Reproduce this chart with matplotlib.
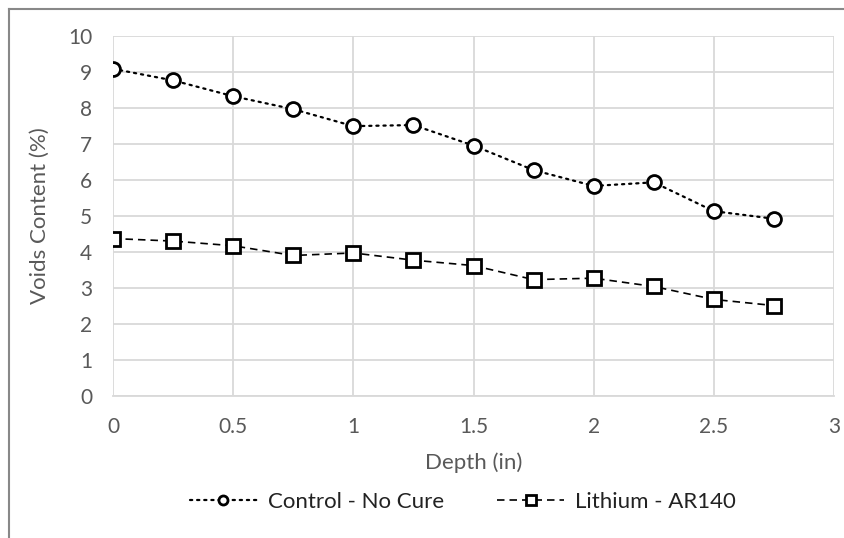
import matplotlib
matplotlib.use("Agg")
import matplotlib.pyplot as plt
from matplotlib.lines import Line2D

depth = [0, 0.25, 0.5, 0.75, 1.0, 1.25, 1.5, 1.75, 2.0, 2.25, 2.5, 2.75]
control = [9.08, 8.76, 8.32, 7.96, 7.49, 7.52, 6.95, 6.27, 5.83, 5.93, 5.13, 4.92]
lithium = [4.37, 4.30, 4.17, 3.90, 3.97, 3.77, 3.62, 3.23, 3.27, 3.04, 2.68, 2.51]
xticks = [0, 0.5, 1, 1.5, 2, 2.5, 3]
yticks = list(range(0, 11))

plt.rcParams['font.family'] = ['Lato', 'DejaVu Sans']
W, H = 844, 538
fig = plt.figure(figsize=(W / 100, H / 100), dpi=100)
ax = fig.add_axes([113 / W, 1 - 396 / H, (834 - 113) / W, (396 - 35.7) / H])

ax.plot(depth, control, linestyle=(0, (1, 2.2)), dash_capstyle='round', color='black', lw=1.6,
        marker='o', ms=10, mfc='white', mec='black', mew=2, label='Control - No Cure', zorder=3)
ax.plot(depth, lithium, linestyle=(0, (4.5, 3)), color='black', lw=1.2,
        marker='s', ms=10, mfc='white', mec='black', mew=2, label='Lithium - AR140', zorder=3)

ax.set_xlim(0, 3)
ax.set_ylim(0, 10)
ax.set_xticks(xticks)
ax.set_xticklabels([f"{t:g}" for t in xticks])
ax.set_yticks(yticks)
ax.grid(True, color='#d9d9d9', lw=1.3)
ax.set_axisbelow(True)
for s in ['top', 'right', 'left']:
    ax.spines[s].set_visible(False)
ax.spines['bottom'].set_color('#d9d9d9')
ax.spines['bottom'].set_linewidth(1.3)
ax.tick_params(length=0, labelsize=15, colors='#595959')
ax.tick_params(axis='x', pad=15)
ax.tick_params(axis='y', pad=15)
ax.set_xlabel('Depth (in)', fontsize=16, color='#595959', labelpad=11)
ax.set_ylabel('Voids Content (%)', fontsize=16, color='#595959', labelpad=13)

leg = ax.legend(loc='center', bbox_to_anchor=((463 - 113) / (834 - 113), (396 - 502) / (396 - 35.7)),
                ncol=2, frameon=False, fontsize=16, handlelength=3.0, handletextpad=0.5,
                columnspacing=2.4, markerscale=0.65)
for t in leg.get_texts():
    t.set_color('#222222')

# partial chart frame (top and left edges)
fig.add_artist(Line2D([9 / W, 9 / W], [1 - 9 / H, 0], color='#888888', lw=1.5))
fig.add_artist(Line2D([9 / W, 1], [1 - 9 / H, 1 - 9 / H], color='#888888', lw=1.5))

fig.savefig('out.png', dpi=100)
